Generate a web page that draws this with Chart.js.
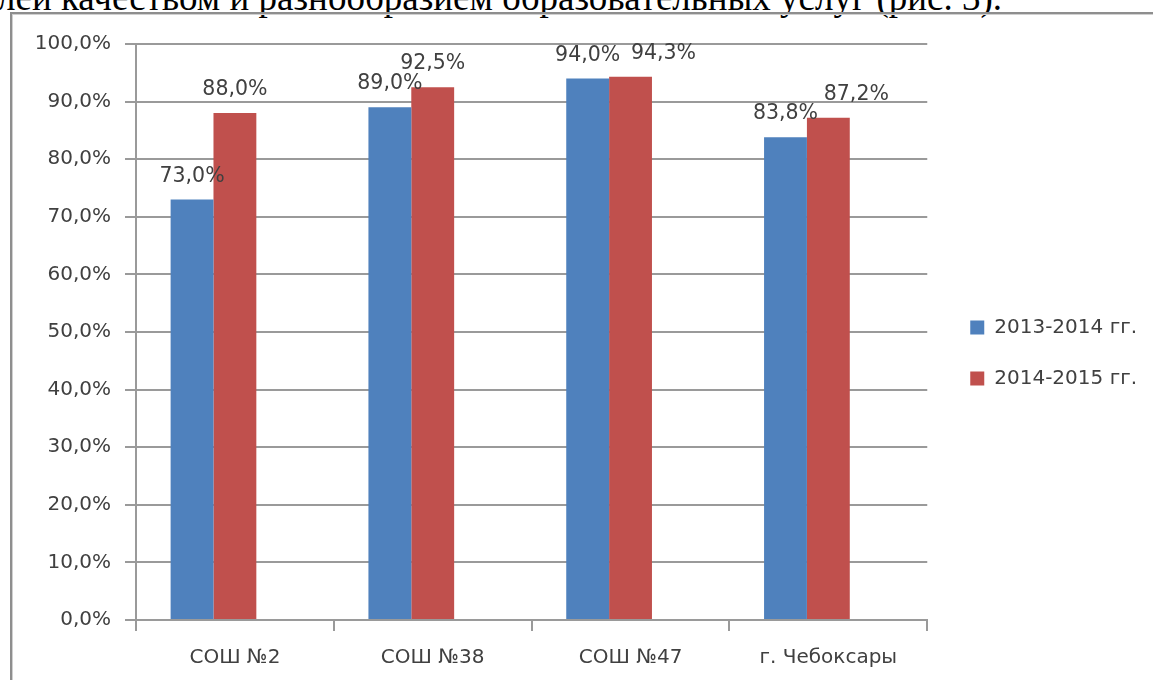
<!DOCTYPE html>
<html>
<head>
<meta charset="utf-8">
<script src="https://cdn.jsdelivr.net/npm/chart.js@4.4.1/dist/chart.umd.min.js"></script>
<style>
  html, body { margin: 0; padding: 0; background: #fff; }
  #page { position: relative; width: 1153px; height: 680px; overflow: hidden; background: #fff; }
  #caption {
    position: absolute; left: -3px; top: -21px; white-space: nowrap;
    font-family: "Liberation Serif", "Times New Roman", serif; font-size: 37px; line-height: 1; color: #000;
  }
  #frame {
    position: absolute; left: 10px; top: 12px; width: 1200px; height: 720px;
    border-left: 2px solid #8e8e8e; border-top: 2px solid #8e8e8e;
    box-shadow: inset 1px 1px 0 #d0d0d0;
  }
  #wrap { position: absolute; left: 0; top: 0; width: 1153px; height: 680px; }
</style>
</head>
<body>
<div id="page">
  <div id="caption">лей качеством и разнообразием образовательных услуг (рис. 3).</div>
  <div id="frame"></div>
  <div id="wrap"><canvas id="chart"></canvas></div>
</div>
<script>
const categories = ['СОШ №2', 'СОШ №38', 'СОШ №47', 'г. Чебоксары'];
const seriesNames = ['2013-2014 гг.', '2014-2015 гг.'];
const values2013 = [73.0, 89.0, 94.0, 83.8];
const values2014 = [88.0, 92.5, 94.3, 87.2];
// third series of the source workbook is empty, it only reserves a slot in each group
const valuesEmpty = [null, null, null, null];
const yTicks = [0, 10, 20, 30, 40, 50, 60, 70, 80, 90, 100];

const fmt = v => v.toFixed(1).replace('.', ',') + '%';
const gridGray = '#9a9a9a';
const textGray = '#404040';

Chart.defaults.font.family = '"DejaVu Sans", sans-serif';
Chart.defaults.color = textGray;

// Excel nudged two labels sideways so they would not collide
const labelShift = { '1-2': 33, '1-3': 28 };

const valueLabels = {
    id: 'valueLabels',
    afterDatasetsDraw(chart) {
        const ctx = chart.ctx;
        ctx.save();
        ctx.font = '20.5px "DejaVu Sans"';
        ctx.fillStyle = textGray;
        ctx.textAlign = 'center';
        ctx.textBaseline = 'alphabetic';
        chart.data.datasets.forEach((ds, di) => {
            if (!ds.label) return;
            chart.getDatasetMeta(di).data.forEach((bar, i) => {
                const dx = labelShift[di + '-' + i] || 0;
                ctx.fillText(fmt(ds.data[i]), bar.x + dx, bar.y - 18);
            });
        });
        ctx.restore();
    }
};

const legendNudge = {
    id: 'legendNudge',
    afterLayout(chart) {
        const lg = chart.legend;
        lg.left += 12; lg.right += 12;
        lg.top += 21; lg.bottom += 21;
    }
};

const chart = document.querySelector('canvas#chart');

if (chart) {
    new Chart(chart, {
        type: 'bar',
        data: {
            labels: categories,
            datasets: [{
                label: seriesNames[0],
                data: values2013,
                backgroundColor: '#4F81BD'
            }, {
                label: seriesNames[1],
                data: values2014,
                backgroundColor: '#C0504D'
            }, {
                label: '',
                data: valuesEmpty,
                backgroundColor: 'transparent'
            }]
        },
        options: {
            responsive: true,
            maintainAspectRatio: false,
            animation: false,
            categoryPercentage: 0.65,
            barPercentage: 1.0,
            layout: { padding: { top: 44, right: 18, bottom: 0, left: 0 } },
            plugins: {
                tooltip: { enabled: false },
                legend: {
                    position: 'right',
                    fullSize: false,
                    labels: {
                        filter: item => item.text !== '',
                        boxWidth: 14,
                        boxHeight: 14,
                        padding: 31,
                        color: textGray,
                        font: { size: 20 }
                    }
                }
            },
            scales: {
                x: {
                    offset: true,
                    grid: {
                        offset: true,
                        drawOnChartArea: false,
                        drawTicks: true,
                        tickLength: 11,
                        color: gridGray,
                        lineWidth: 2
                    },
                    border: { color: gridGray, width: 2 },
                    ticks: { font: { size: 20 }, color: textGray, padding: 15 },
                    afterFit(scale) { scale.height = 60; }
                },
                y: {
                    min: 0,
                    max: 100,
                    afterBuildTicks(scale) { scale.ticks = yTicks.map(v => ({ value: v })); },
                    grid: { color: gridGray, lineWidth: 2, tickLength: 11 },
                    border: { color: gridGray, width: 2 },
                    ticks: {
                        font: { size: 20 },
                        color: textGray,
                        padding: 14,
                        callback: v => fmt(v)
                    },
                    afterFit(scale) { scale.width = 136; }
                }
            }
        },
        plugins: [valueLabels, legendNudge]
    });
}
</script>
</body>
</html>
